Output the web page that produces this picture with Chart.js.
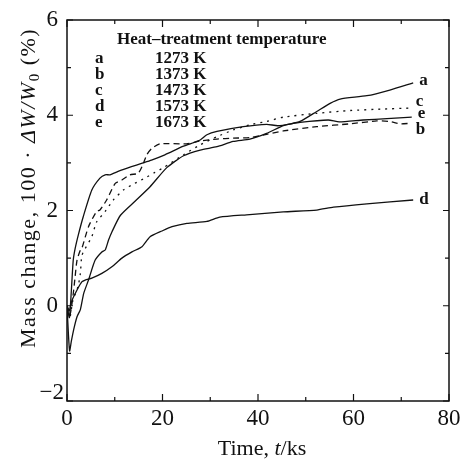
<!DOCTYPE html>
<html>
<head>
<meta charset="utf-8">
<script src="https://cdn.jsdelivr.net/npm/chart.js@4.4.1/dist/chart.umd.min.js"></script>
<style>
  html, body { margin: 0; padding: 0; background: #fff; }
</style>
</head>
<body>
<canvas id="myChart" width="462" height="460"></canvas>
<script>
// data (t in ks, mass change in %)
const tA = [0, 0.3, 0.55, 0.9, 1.4, 2.1, 2.8, 3.5, 4.5, 5.9, 7.3, 8, 8.7, 9.4, 11.2, 14.3, 17.4, 20.9, 24.4, 27.9, 31.4, 34.8, 38.3, 41.8, 45.3, 48.8, 52.3, 55.1, 57.2, 62.8, 67.6, 72.5];
const vA = [0, -0.6, -0.95, -0.75, -0.5, -0.23, -0.08, 0.26, 0.54, 0.96, 1.13, 1.17, 1.38, 1.55, 1.9, 2.2, 2.5, 2.9, 3.15, 3.27, 3.34, 3.45, 3.5, 3.62, 3.78, 3.87, 4.08, 4.25, 4.34, 4.41, 4.53, 4.68];

const tB = [0, 0.6, 1.05, 1.4, 1.7, 2.1, 2.8, 3.1, 4.5, 6.2, 6.9, 8.3, 10.1, 11.5, 13.2, 14.9, 16, 16.7, 17.7, 19.5, 25, 28, 31.4, 34.8, 38.3, 41.8, 45.3, 52.3, 59.3, 64.9, 67.6, 69.7, 71.8];
const vB = [0, -0.2, 0.05, 0.33, 0.61, 0.96, 1.17, 1.2, 1.66, 1.98, 2.01, 2.22, 2.57, 2.64, 2.75, 2.78, 2.99, 3.17, 3.3, 3.4, 3.4, 3.46, 3.5, 3.52, 3.53, 3.6, 3.67, 3.76, 3.82, 3.88, 3.87, 3.82, 3.83];

const tC = [0, 0.6, 1.2, 2.3, 2.8, 3.1, 3.8, 5.2, 6.2, 8, 9.7, 11.8, 14.2, 16.3, 18.4, 20.2, 24.4, 27.9, 31.4, 34.8, 38.3, 41.8, 45.3, 52.3, 59.3, 66.2, 71.8];
const vC = [0, -0.25, 0.1, 0.4, 0.68, 1.05, 1.2, 1.45, 1.76, 1.98, 2.22, 2.43, 2.57, 2.68, 2.8, 2.9, 3.17, 3.38, 3.55, 3.69, 3.8, 3.87, 3.96, 4.04, 4.1, 4.13, 4.15];

const tD = [0, 0.5, 1, 2.1, 3.1, 3.8, 5.2, 7.3, 9.4, 11.5, 13.6, 15.7, 17.4, 19.9, 22, 25.1, 29.3, 32, 37.6, 45.3, 52.3, 55.8, 62.8, 72.5];
const vD = [0, -0.1, 0.1, 0.33, 0.5, 0.54, 0.58, 0.68, 0.82, 1.0, 1.13, 1.24, 1.45, 1.57, 1.66, 1.73, 1.77, 1.86, 1.91, 1.97, 2.01, 2.07, 2.14, 2.22];

const tE = [0, 0.5, 0.9, 1.3, 1.7, 2.4, 3.4, 5.2, 6.9, 8, 9, 10.7, 13.5, 15.6, 17.7, 20.5, 24.4, 27.9, 29.3, 31.4, 36.9, 41.8, 44.2, 48.8, 54.7, 57, 62, 67, 72.2];
const vE = [0, -0.25, 0.3, 0.95, 1.2, 1.5, 1.87, 2.43, 2.68, 2.75, 2.75, 2.82, 2.92, 2.99, 3.06, 3.17, 3.35, 3.48, 3.59, 3.66, 3.76, 3.81, 3.78, 3.85, 3.9, 3.86, 3.9, 3.93, 3.96];

const seriesLetters = ['a', 'b', 'c', 'd', 'e'];
const seriesTemps = ['1273 K', '1373 K', '1473 K', '1573 K', '1673 K'];
const legendTitle = 'Heat\u2013treatment temperature';

const xTickLabels = [0, 20, 40, 60, 80];
const xMinorTicks = [10, 30, 50, 70];
const yTickLabels = [-2, 0, 2, 4, 6];
const yMinorTicks = [-1, 1, 3, 5];

// styling
const serif = '"Liberation Serif", "DejaVu Serif", "Times New Roman", serif';
const ink = '#111';
const dashes = { a: [], b: [6, 4], c: [2, 5], d: [], e: [] };
const endLabelShift = { a: -2, b: 6, c: -6, d: 0, e: -4 };

function pts(ts, vs) {
  return ts.map((t, i) => ({ x: t, y: vs[i] }));
}

const allSeries = [[tA, vA], [tB, vB], [tC, vC], [tD, vD], [tE, vE]];

const datasets = allSeries.map((s, i) => ({
  label: seriesLetters[i],
  data: pts(s[0], s[1]),
  borderColor: ink,
  borderWidth: 1.3,
  borderDash: dashes[seriesLetters[i]],
  pointRadius: 0,
  tension: 0.2,
  fill: false,
}));

const decorations = {
  id: 'decorations',
  afterDatasetsDraw(chart) {
    const ctx = chart.ctx;
    const a = chart.chartArea;
    const xs = chart.scales.x;
    const ys = chart.scales.y;
    ctx.save();
    ctx.strokeStyle = ink;
    ctx.fillStyle = ink;

    // frame
    ctx.lineWidth = 1.5;
    ctx.strokeRect(a.left, a.top, a.right - a.left, a.bottom - a.top);

    // inward ticks
    ctx.lineWidth = 1.2;
    const xTick = (v, len) => {
      const px = xs.getPixelForValue(v);
      ctx.beginPath();
      ctx.moveTo(px, a.bottom); ctx.lineTo(px, a.bottom - len);
      ctx.moveTo(px, a.top); ctx.lineTo(px, a.top + len);
      ctx.stroke();
    };
    const yTick = (v, len) => {
      const py = ys.getPixelForValue(v);
      ctx.beginPath();
      ctx.moveTo(a.left, py); ctx.lineTo(a.left + len, py);
      ctx.moveTo(a.right, py); ctx.lineTo(a.right - len, py);
      ctx.stroke();
    };
    xTickLabels.forEach(v => xTick(v, 7));
    xMinorTicks.forEach(v => xTick(v, 4));
    yTickLabels.forEach(v => yTick(v, 6));
    yMinorTicks.forEach(v => yTick(v, 4));

    // tick labels
    ctx.font = '23px ' + serif;
    ctx.textAlign = 'center';
    ctx.textBaseline = 'alphabetic';
    xTickLabels.forEach(v => {
      ctx.fillText(String(v), xs.getPixelForValue(v), a.bottom + 24);
    });
    ctx.textAlign = 'right';
    ctx.textBaseline = 'middle';
    yTickLabels.forEach(v => {
      let py = ys.getPixelForValue(v);
      let px = a.left - 9;
      if (py > a.bottom - 8) { py = a.bottom - 8; px = a.left - 3; }
      ctx.fillText(String(v).replace('-', '\u2212'), px, py);
    });

    // x title
    ctx.textBaseline = 'alphabetic';
    const xParts = [
      { t: 'Time, ', f: '22px ' + serif },
      { t: 't', f: 'italic 22px ' + serif },
      { t: '/ks', f: '22px ' + serif },
    ];
    drawParts(ctx, xParts, (a.left + a.right) / 2 + 4, 455);

    // y title, rotated
    ctx.save();
    ctx.translate(34.5, 188);
    ctx.rotate(-Math.PI / 2);
    ctx.letterSpacing = '1.5px';
    const yParts = [
      { t: 'Mass change, 100 \u00b7 ', f: '22px ' + serif },
      { t: '\u0394W/W', f: 'italic 22px ' + serif },
      { t: '0', f: '15px ' + serif, dy: 4 },
      { t: ' (%)', f: '22px ' + serif },
    ];
    drawParts(ctx, yParts, 0, 0);
    ctx.restore();

    // legend block
    ctx.font = 'bold 17px ' + serif;
    ctx.textAlign = 'left';
    ctx.textBaseline = 'alphabetic';
    ctx.fillText(legendTitle, 117, 44);
    seriesLetters.forEach((l, i) => {
      ctx.fillText(l, 95, 63 + i * 16);
      ctx.fillText(seriesTemps[i], 155, 63 + i * 16);
    });

    // end labels next to last points
    ctx.textBaseline = 'middle';
    chart.data.datasets.forEach((ds, i) => {
      const last = ds.data[ds.data.length - 1];
      const px = xs.getPixelForValue(last.x);
      const py = ys.getPixelForValue(last.y);
      ctx.fillText(ds.label, px + 6, py + endLabelShift[ds.label]);
    });

    ctx.restore();
  }
};

function drawParts(ctx, parts, cx, y) {
  ctx.textAlign = 'left';
  let total = 0;
  parts.forEach(p => { ctx.font = p.f; p.w = ctx.measureText(p.t).width; total += p.w; });
  let x = cx - total / 2;
  parts.forEach(p => {
    ctx.font = p.f;
    ctx.fillText(p.t, x, y + (p.dy || 0));
    x += p.w;
  });
}

const ctx = document.getElementById('myChart');
const myChart = new Chart(ctx, {
  type: 'line',
  data: { datasets: datasets },
  options: {
    responsive: false,
    animation: false,
    layout: { padding: { left: 67, right: 13, top: 20, bottom: 59 } },
    plugins: { legend: { display: false }, tooltip: { enabled: false } },
    scales: {
      x: { type: 'linear', min: 0, max: 80, display: false },
      y: { type: 'linear', min: -2, max: 6, display: false },
    },
  },
  plugins: [decorations],
});
</script>
</body>
</html>
